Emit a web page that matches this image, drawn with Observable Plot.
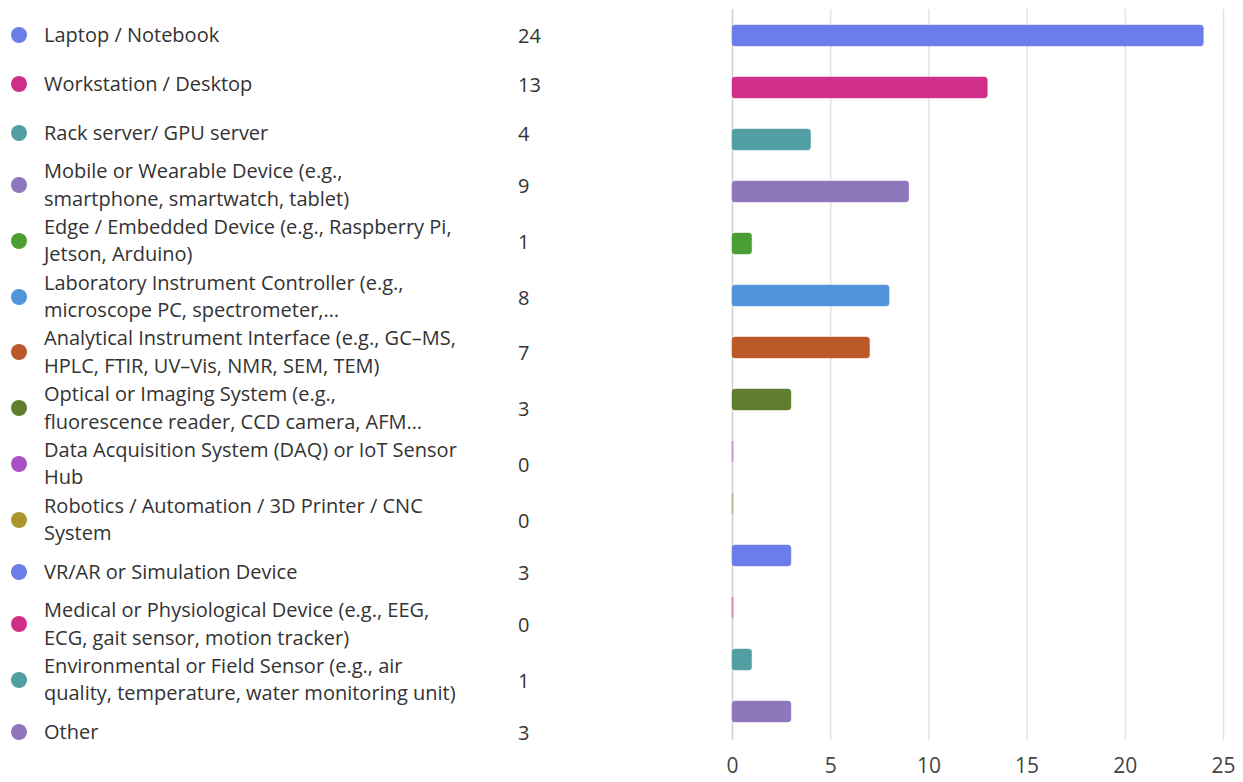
<!DOCTYPE html>
<html>
<head>
<meta charset="utf-8">
<script src="https://cdn.jsdelivr.net/npm/d3@7"></script>
<script src="https://cdn.jsdelivr.net/npm/@observablehq/plot@0.6"></script>
<style>
  body { margin: 0; background: #fff; }
  #wrap { position: relative; width: 1243px; height: 782px; font-family: "Open Sans", "Noto Sans", sans-serif; color: #333; }
  #legend { position: absolute; left: 0; top: 11px; width: 600px; }
  .row { position: relative; }
  .dot { position: absolute; left: 11px; width: 16px; height: 16px; border-radius: 50%; top: 50%; margin-top: -8px; }
  .lab { position: absolute; left: 44px; top: 50%; transform: translateY(-50%); font-size: 20px; line-height: 27.6px; white-space: nowrap; }
  .num { position: absolute; left: 518px; top: 50%; transform: translateY(-50%); font-size: 20px; }
  #chart { position: absolute; left: 700px; top: 0; }
</style>
</head>
<body>
<div id="wrap">
  <div id="legend"></div>
  <div id="chart"></div>
</div>
<script>
const categories = [
  "Laptop / Notebook",
  "Workstation / Desktop",
  "Rack server/ GPU server",
  "Mobile or Wearable Device (e.g.,\nsmartphone, smartwatch, tablet)",
  "Edge / Embedded Device (e.g., Raspberry Pi,\nJetson, Arduino)",
  "Laboratory Instrument Controller (e.g.,\nmicroscope PC, spectrometer,…",
  "Analytical Instrument Interface (e.g., GC–MS,\nHPLC, FTIR, UV–Vis, NMR, SEM, TEM)",
  "Optical or Imaging System (e.g.,\nfluorescence reader, CCD camera, AFM…",
  "Data Acquisition System (DAQ) or IoT Sensor\nHub",
  "Robotics / Automation / 3D Printer / CNC\nSystem",
  "VR/AR or Simulation Device",
  "Medical or Physiological Device (e.g., EEG,\nECG, gait sensor, motion tracker)",
  "Environmental or Field Sensor (e.g., air\nquality, temperature, water monitoring unit)",
  "Other"
];
const counts = [24, 13, 4, 9, 1, 8, 7, 3, 0, 0, 3, 0, 1, 3];
const colors = ["#6a7de8", "#d02f89", "#519ea3", "#8e77bb", "#4b9e33", "#5294d9", "#bb5a28", "#5f7f2e", "#a751c4", "#ab952f",
                "#6a7de8", "#d02f89", "#519ea3", "#8e77bb"];
const xTicks = [0, 5, 10, 15, 20, 25];

const data = categories.map((c, i) => ({category: c, count: counts[i], color: colors[i]}));

// Left list (legend with labels and counts)
const legend = document.getElementById("legend");
data.forEach(d => {
  const lines = d.category.split("\n");
  const row = document.createElement("div");
  row.className = "row";
  row.style.height = (lines.length > 1 ? 55.75 : 48.75) + "px";
  const dot = document.createElement("div");
  dot.className = "dot";
  dot.style.background = d.color;
  const lab = document.createElement("div");
  lab.className = "lab";
  lines.forEach((l, i) => {
    if (i) lab.appendChild(document.createElement("br"));
    lab.appendChild(document.createTextNode(l));
  });
  const num = document.createElement("div");
  num.className = "num";
  num.textContent = d.count;
  row.append(dot, lab, num);
  legend.appendChild(row);
});

// Bar chart
const chart = Plot.plot({
  width: 543,
  height: 782,
  marginLeft: 32,
  marginRight: 20,
  marginTop: 10,
  marginBottom: 44,
  style: {fontFamily: "'Open Sans', 'Noto Sans', sans-serif", fontSize: "21px", color: "#444", background: "transparent"},
  x: {domain: [0, 25], ticks: xTicks, tickSize: 0, tickPadding: 20, label: null},
  y: {domain: categories, paddingInner: 0.587, paddingOuter: 0.2935, axis: null},
  color: {type: "identity"},
  marks: [
    Plot.ruleX(xTicks, {stroke: d => d === 0 ? "#cfcfcf" : "#e3e3e3", strokeWidth: 1.5, insetTop: -1, insetBottom: -2}),
    Plot.barX(data, {
      x: "count",
      y: "category",
      fill: "color",
      stroke: "color",
      strokeOpacity: 0.45,
      strokeWidth: 1,
      rx: 3
    }),
    Plot.tickX(data.filter(d => d.count === 0), {
      x: "count",
      y: "category",
      stroke: "color",
      strokeOpacity: 0.45,
      strokeWidth: 2
    })
  ]
});
document.getElementById("chart").appendChild(chart);
</script>
</body>
</html>
